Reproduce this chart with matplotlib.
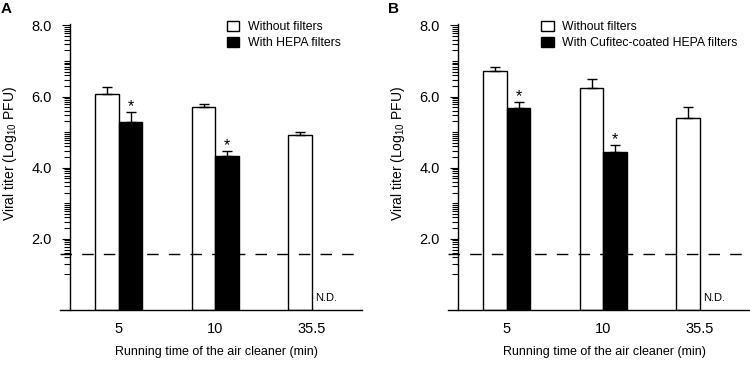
import numpy as np
import matplotlib
matplotlib.use('Agg')
import matplotlib.pyplot as plt
from matplotlib.patches import Patch

plt.rcParams['font.family'] = ['Liberation Sans', 'DejaVu Sans']
plt.rcParams['mathtext.fontset'] = 'custom'
plt.rcParams['mathtext.rm'] = 'Liberation Sans'

# values (log10 PFU)
times = ['5', '10', '35.5']
detect_limit = 1.58

a_without = [6.06, 5.71, 4.92]
a_without_err = [0.21, 0.08, 0.07]
a_with = [5.29, 4.32]
a_with_err = [0.28, 0.16]

b_without = [6.71, 6.23, 5.39]
b_without_err = [0.12, 0.27, 0.32]
b_with = [5.69, 4.45]
b_with_err = [0.16, 0.18]

W, H = 750, 365
fig = plt.figure(figsize=(W / 100, H / 100), dpi=100)

# minor ticks like a log axis of PFU: log10(k * 10^n)
minor = [n + np.log10(k) for n in range(1, 8) for k in range(1, 10)]
minor = [m for m in minor if round(m, 3) not in (2.0, 4.0, 6.0)]


def panel(left_px, without, without_err, with_, with_err, with_label, leg_x):
    ax = fig.add_axes([left_px / W, 55 / H, 302 / W, 286 / H])
    w = 0.2435
    x = np.arange(len(without))
    xw = x[:len(with_)]
    ax.bar(x - w / 2, without, w, color='white', edgecolor='black', linewidth=1.0, zorder=2)
    ax.bar(xw + w / 2, with_, w, color='black', edgecolor='black', linewidth=1.0, zorder=3)
    ax.errorbar(x - w / 2, without, yerr=[np.zeros(len(without)), without_err], fmt='none',
                ecolor='black', elinewidth=1.0, capsize=3.6, capthick=1.0, zorder=4)
    ax.errorbar(xw + w / 2, with_, yerr=[np.zeros(len(with_)), with_err], fmt='none',
                ecolor='black', elinewidth=1.0, capsize=3.6, capthick=1.0, zorder=4)
    for xi, v, e in zip(xw + w / 2, with_, with_err):
        ax.annotate('*', (xi, v + e), xytext=(0, 0.5), textcoords='offset points',
                    ha='center', va='baseline', fontsize=11.5, zorder=5)
    ax.text(2 + 0.03, 0.34, 'N.D.', fontsize=8, ha='left', va='center')

    # dashed line shows through the white bars, hidden by the black ones
    ax.axhline(detect_limit, color='black', linewidth=1.0, linestyle=(0, (8.3, 7.3)), zorder=2.5)

    ax.set_xlim(-0.611, 2.519)
    ax.set_ylim(0, 8.04)
    for s in ['top', 'right']:
        ax.spines[s].set_visible(False)
    ax.spines['left'].set_position(('axes', 10 / 302))
    ax.spines['left'].set_bounds(0, 8.04)
    for s in ['left', 'bottom']:
        ax.spines[s].set_linewidth(1.0)

    ax.set_xticks(x)
    ax.set_xticklabels(times)
    ax.tick_params(axis='x', length=0, pad=8.5, labelsize=10.5)
    ax.set_yticks([2, 4, 6, 8])
    ax.set_yticklabels(['2.0', '4.0', '6.0', '8.0'])
    ax.set_yticks(minor, minor=True)
    ax.tick_params(axis='y', which='major', length=6, width=0.8, pad=7, labelsize=10.5)
    ax.tick_params(axis='y', which='minor', length=4.3, width=0.8)

    ax.set_ylabel('Viral titer (Log$_{10}$ PFU)', fontsize=10)
    ax.yaxis.set_label_coords(-0.1374, 0.547)
    ax.set_xlabel('Running time of the air cleaner (min)', fontsize=9)
    ax.xaxis.set_label_coords(0.5166, -0.125)

    handles = [Patch(facecolor='white', edgecolor='black', linewidth=1.0),
               Patch(facecolor='black', edgecolor='black', linewidth=1.0)]
    ax.legend(handles, ['Without filters', with_label], loc='upper left',
              bbox_to_anchor=(leg_x / W, 1 - 20.5 / H), bbox_transform=fig.transFigure,
              frameon=False, fontsize=8.8, borderpad=0, borderaxespad=0,
              handlelength=1.03, handleheight=0.89, handletextpad=0.7, labelspacing=0.36)
    return ax


panel(60, a_without, a_without_err, a_with, a_with_err, 'With HEPA filters', 226.5)
panel(448, b_without, b_without_err, b_with, b_with_err, 'With Cufitec-coated HEPA filters', 541)

fig.text(1 / W, 1 - 2 / H, 'A', fontsize=11, fontweight='bold', ha='left', va='top')
fig.text(388 / W, 1 - 2 / H, 'B', fontsize=11, fontweight='bold', ha='left', va='top')

fig.savefig('out.png', dpi=100)
